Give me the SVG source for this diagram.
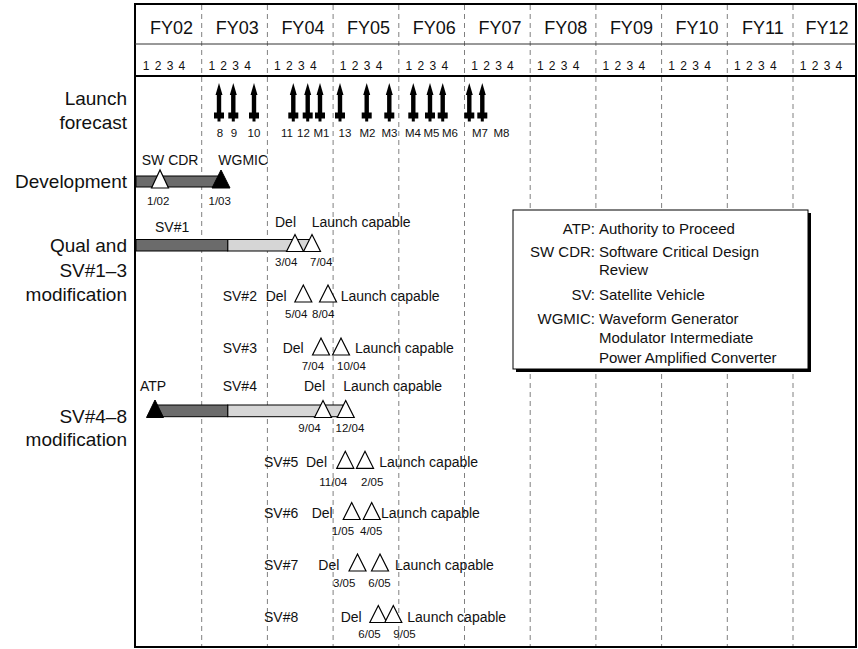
<svg xmlns="http://www.w3.org/2000/svg" width="858" height="649" viewBox="0 0 858 649">
<style>
text{font-family:"Liberation Sans",Arial,sans-serif;fill:#111}
.fy{font-size:18px;text-anchor:middle}
.q{font-size:12px;letter-spacing:5.3px}
.side{font-size:19px;text-anchor:end}
.lbl{font-size:14px}
.dt{font-size:11.5px}
.al{font-size:11.5px;text-anchor:middle}
.lg{font-size:15px}
.lgt{font-size:15px;text-anchor:end}
.grid line{stroke:#808080;stroke-width:1;stroke-dasharray:5 4}
.tw{fill:#fff;stroke:#000;stroke-width:1.2}
.tb{fill:#000;stroke:#000;stroke-width:1}
.dk{fill:#6b6b6b;stroke:#000;stroke-width:1}
.lt{fill:#d6d6d6;stroke:#000;stroke-width:1}
</style>
<defs>
<g id="arr">
<path d="M0,0 L3.5,12 L-3.5,12 Z"/>
<rect x="-2.2" y="11" width="4.4" height="19"/>
<rect x="-5" y="29.5" width="10" height="6"/>
<rect x="-1.5" y="35" width="3" height="3.5"/>
</g>
</defs>
<rect width="858" height="649" fill="#fff"/>
<g id="grid" class="grid">
<line x1="201.7" y1="5" x2="201.7" y2="646"/>
<line x1="267.4" y1="5" x2="267.4" y2="646"/>
<line x1="333.1" y1="5" x2="333.1" y2="646"/>
<line x1="398.8" y1="5" x2="398.8" y2="646"/>
<line x1="464.5" y1="5" x2="464.5" y2="646"/>
<line x1="530.2" y1="5" x2="530.2" y2="646"/>
<line x1="595.9" y1="5" x2="595.9" y2="646"/>
<line x1="661.6" y1="5" x2="661.6" y2="646"/>
<line x1="727.3" y1="5" x2="727.3" y2="646"/>
<line x1="793" y1="5" x2="793" y2="646"/>
</g>
<g id="frame" fill="none" stroke="#000">
<path d="M135,647 L135,4 L856,4 L856,647 Z" stroke-width="2"/>
<line x1="135" y1="44" x2="856" y2="44" stroke="#333" stroke-width="1"/>
<line x1="135" y1="76" x2="856" y2="76" stroke-width="2"/>
</g>
<g id="header">
<text class="fy" x="171.5" y="34">FY02</text>
<text class="fy" x="237.2" y="34">FY03</text>
<text class="fy" x="302.9" y="34">FY04</text>
<text class="fy" x="368.6" y="34">FY05</text>
<text class="fy" x="434.3" y="34">FY06</text>
<text class="fy" x="500" y="34">FY07</text>
<text class="fy" x="565.7" y="34">FY08</text>
<text class="fy" x="631.4" y="34">FY09</text>
<text class="fy" x="697.1" y="34">FY10</text>
<text class="fy" x="762.8" y="34">FY11</text>
<text class="fy" x="827" y="34">FY12</text>
<text class="q" x="142.7" y="70">1234</text>
<text class="q" x="208.4" y="70">1234</text>
<text class="q" x="274.1" y="70">1234</text>
<text class="q" x="339.8" y="70">1234</text>
<text class="q" x="405.5" y="70">1234</text>
<text class="q" x="471.2" y="70">1234</text>
<text class="q" x="536.9" y="70">1234</text>
<text class="q" x="602.6" y="70">1234</text>
<text class="q" x="668.3" y="70">1234</text>
<text class="q" x="734" y="70">1234</text>
<text class="q" x="799.7" y="70">1234</text>
</g>
<g id="row-labels">
<text class="side" x="127" y="105">Launch</text>
<text class="side" x="127" y="129">forecast</text>
<text class="side" x="127" y="188">Development</text>
<text class="side" x="127" y="252">Qual and</text>
<text class="side" x="127" y="277">SV#1–3</text>
<text class="side" x="127" y="301">modification</text>
<text class="side" x="127" y="423">SV#4–8</text>
<text class="side" x="127" y="446">modification</text>
</g>
<g id="launch-forecast">
<use href="#arr" x="219" y="83"/>
<use href="#arr" x="233.3" y="83"/>
<use href="#arr" x="254" y="83"/>
<use href="#arr" x="293.3" y="83"/>
<use href="#arr" x="307.7" y="83"/>
<use href="#arr" x="320" y="83"/>
<use href="#arr" x="340" y="83"/>
<use href="#arr" x="366.7" y="83"/>
<use href="#arr" x="389.3" y="83"/>
<use href="#arr" x="413.3" y="83"/>
<use href="#arr" x="430" y="83"/>
<use href="#arr" x="442.7" y="83"/>
<use href="#arr" x="469.3" y="83"/>
<use href="#arr" x="482.3" y="83"/>
<text class="al" x="220" y="137">8</text>
<text class="al" x="234" y="137">9</text>
<text class="al" x="254" y="137">10</text>
<text class="al" x="287" y="137">11</text>
<text class="al" x="303.5" y="137">12</text>
<text class="al" x="321.5" y="137">M1</text>
<text class="al" x="345" y="137">13</text>
<text class="al" x="367.5" y="137">M2</text>
<text class="al" x="389.5" y="137">M3</text>
<text class="al" x="413" y="137">M4</text>
<text class="al" x="431.5" y="137">M5</text>
<text class="al" x="450" y="137">M6</text>
<text class="al" x="480" y="137">M7</text>
<text class="al" x="501.5" y="137">M8</text>
</g>
<g id="development">
<rect class="dk" x="136" y="176" width="85" height="11"/>
<polygon class="tw" points="151.5,188 160,170 168.5,188"/>
<polygon class="tb" points="212,188 221,170 230,188"/>
<text class="lbl" x="141.7" y="165">SW CDR</text>
<text class="lbl" x="218.3" y="165">WGMIC</text>
<text class="dt" x="147" y="205">1/02</text>
<text class="dt" x="208.5" y="205">1/03</text>
</g>
<g id="sv1">
<rect class="lt" x="227.7" y="239.5" width="86" height="11.5"/>
<rect class="dk" x="136" y="239.5" width="91.7" height="11.5"/>
<polygon class="tw" points="286.5,251.5 295,234.5 303.5,251.5"/>
<polygon class="tw" points="303.5,251.5 312,234.5 320.5,251.5"/>
<text class="lbl" x="155" y="231.7">SV#1</text>
<text class="lbl" x="275" y="226.7">Del</text>
<text class="lbl" x="311.7" y="226.7">Launch capable</text>
<text class="dt" x="275" y="265.7">3/04</text>
<text class="dt" x="310" y="265.7">7/04</text>
</g>
<g id="sv2">
<polygon class="tw" points="294.8,302 303.3,285 311.8,302"/>
<polygon class="tw" points="319.5,302 328,285 336.5,302"/>
<text class="lbl" x="222.7" y="300.7">SV#2</text>
<text class="lbl" x="265.7" y="300.7">Del</text>
<text class="lbl" x="340.7" y="300.7">Launch capable</text>
<text class="dt" x="285" y="318.3">5/04</text>
<text class="dt" x="312" y="318.3">8/04</text>
</g>
<g id="sv3">
<polygon class="tw" points="312.5,355 321,338 329.5,355"/>
<polygon class="tw" points="332.5,355 341,338 349.5,355"/>
<text class="lbl" x="222.7" y="353.3">SV#3</text>
<text class="lbl" x="282.7" y="353.3">Del</text>
<text class="lbl" x="355" y="353.3">Launch capable</text>
<text class="dt" x="301.7" y="370">7/04</text>
<text class="dt" x="337" y="370">10/04</text>
</g>
<g id="sv4">
<rect class="lt" x="227.7" y="405" width="115.3" height="11.7"/>
<rect class="dk" x="155" y="405" width="72.7" height="11.7"/>
<polygon class="tb" points="146.5,417.5 155,400 163.5,417.5"/>
<polygon class="tw" points="314.5,417.5 323,400.5 331.5,417.5"/>
<polygon class="tw" points="337.2,417.5 345.7,400.5 354.2,417.5"/>
<text class="lbl" x="140" y="390.7">ATP</text>
<text class="lbl" x="222.7" y="390.7">SV#4</text>
<text class="lbl" x="304" y="390.7">Del</text>
<text class="lbl" x="343.3" y="390.7">Launch capable</text>
<text class="dt" x="298.3" y="431.7">9/04</text>
<text class="dt" x="335.5" y="431.7">12/04</text>
</g>
<g id="sv5">
<polygon class="tw" points="336.8,468.3 345.3,451.3 353.8,468.3"/>
<polygon class="tw" points="356.5,468.3 365,451.3 373.5,468.3"/>
<text class="lbl" x="264" y="466.7">SV#5</text>
<text class="lbl" x="306" y="466.7">Del</text>
<text class="lbl" x="379.3" y="466.7">Launch capable</text>
<text class="dt" x="319.3" y="485.7">11/04</text>
<text class="dt" x="361" y="485.7">2/05</text>
</g>
<g id="sv6">
<polygon class="tw" points="343.2,519.5 351.7,502.5 360.2,519.5"/>
<polygon class="tw" points="363.2,519.5 371.7,502.5 380.2,519.5"/>
<text class="lbl" x="264" y="518.3">SV#6</text>
<text class="lbl" x="311.7" y="518.3">Del</text>
<text class="lbl" x="381" y="518.3">Launch capable</text>
<text class="dt" x="331.7" y="535">1/05</text>
<text class="dt" x="360" y="535">4/05</text>
</g>
<g id="sv7">
<polygon class="tw" points="349,571 357.5,554 366,571"/>
<polygon class="tw" points="371.5,571 380,554 388.5,571"/>
<text class="lbl" x="264" y="570">SV#7</text>
<text class="lbl" x="318.3" y="570">Del</text>
<text class="lbl" x="395" y="570">Launch capable</text>
<text class="dt" x="333" y="587.3">3/05</text>
<text class="dt" x="368.3" y="587.3">6/05</text>
</g>
<g id="sv8">
<polygon class="tw" points="369.8,622.5 378.3,605.5 386.8,622.5"/>
<polygon class="tw" points="384.8,622.5 393.3,605.5 401.8,622.5"/>
<text class="lbl" x="264" y="621.7">SV#8</text>
<text class="lbl" x="340.7" y="621.7">Del</text>
<text class="lbl" x="407.3" y="621.7">Launch capable</text>
<text class="dt" x="358.3" y="638.3">6/05</text>
<text class="dt" x="393.3" y="638.3">9/05</text>
</g>
<g id="legend">
<rect x="516" y="213" width="295" height="159" fill="#000"/>
<rect x="513" y="210" width="295" height="159" fill="#fff" stroke="#000" stroke-width="1"/>
<text class="lgt" x="595" y="234.3">ATP:</text>
<text class="lg" x="599" y="234.3">Authority to Proceed</text>
<text class="lgt" x="595" y="257.3">SW CDR:</text>
<text class="lg" x="599" y="257.3">Software Critical Design</text>
<text class="lg" x="599" y="275">Review</text>
<text class="lgt" x="595" y="300">SV:</text>
<text class="lg" x="599" y="300">Satellite Vehicle</text>
<text class="lgt" x="595" y="324">WGMIC:</text>
<text class="lg" x="599" y="324">Waveform Generator</text>
<text class="lg" x="599" y="343.3">Modulator Intermediate</text>
<text class="lg" x="599" y="363.3">Power Amplified Converter</text>
</g>
</svg>
